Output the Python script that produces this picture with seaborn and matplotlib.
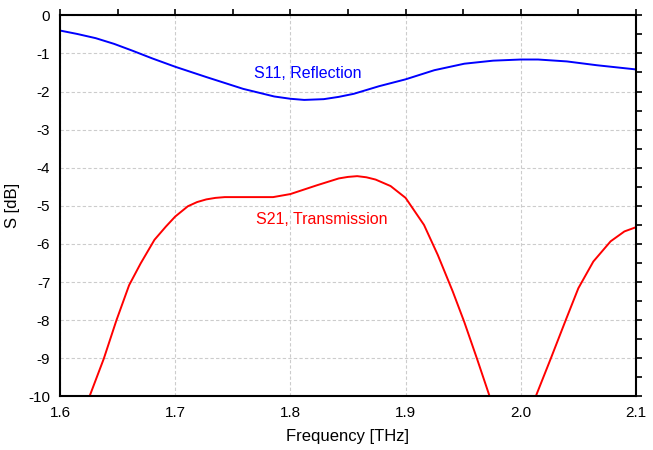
import matplotlib
matplotlib.use("Agg")
import matplotlib.pyplot as plt
from matplotlib.ticker import MultipleLocator
import seaborn as sns
import pandas as pd

# S11 (reflection) values
s11_freq = [1.600, 1.615, 1.631, 1.647, 1.663, 1.680, 1.700, 1.727, 1.759, 1.786,
            1.800, 1.812, 1.829, 1.842, 1.855, 1.877, 1.900, 1.925, 1.951, 1.976,
            2.000, 2.015, 2.040, 2.066, 2.100]
s11_db = [-0.40, -0.49, -0.60, -0.75, -0.93, -1.13, -1.35, -1.62, -1.93, -2.13,
          -2.19, -2.22, -2.20, -2.14, -2.06, -1.86, -1.68, -1.44, -1.27, -1.19,
          -1.16, -1.16, -1.21, -1.31, -1.42]

# S21 (transmission) values
s21_freq = [1.615, 1.6256, 1.638, 1.649, 1.660, 1.670, 1.682, 1.692, 1.700, 1.711,
            1.719, 1.727, 1.735, 1.743, 1.765, 1.785, 1.800, 1.823, 1.842, 1.850,
            1.858, 1.866, 1.874, 1.887, 1.900, 1.916, 1.928, 1.941, 1.951, 1.962,
            1.973, 1.993, 2.013, 2.026, 2.039, 2.050, 2.063, 2.078, 2.090, 2.100]
s21_db = [-11.2, -10.0, -9.01, -8.0, -7.08, -6.51, -5.89, -5.54, -5.28, -5.01,
          -4.90, -4.83, -4.79, -4.77, -4.77, -4.77, -4.69, -4.46, -4.28, -4.24,
          -4.22, -4.25, -4.31, -4.48, -4.79, -5.50, -6.29, -7.25, -8.05, -9.01,
          -10.0, -13.0, -10.0, -9.01, -8.0, -7.16, -6.46, -5.93, -5.67, -5.56]

x_ticks = [1.6, 1.7, 1.8, 1.9, 2.0, 2.1]
x_tick_labels = ["1.6", "1.7", "1.8", "1.9", "2.0", "2.1"]
y_ticks = [0, -1, -2, -3, -4, -5, -6, -7, -8, -9, -10]
y_tick_labels = ["0", "-1", "-2", "-3", "-4", "-5", "-6", "-7", "-8", "-9", "-10"]

sns.set_theme(style="white")
plt.rcParams['font.family'] = ['Liberation Sans', 'DejaVu Sans']

fig = plt.figure(figsize=(6.53, 4.5), dpi=100)
ax = fig.add_axes([0.0919, 0.119, 0.882, 0.847])

df11 = pd.DataFrame({"f": s11_freq, "s": s11_db})
df21 = pd.DataFrame({"f": s21_freq, "s": s21_db})
sns.lineplot(data=df11, x="f", y="s", ax=ax, color="#0000ff", linewidth=1.4, sort=False)
sns.lineplot(data=df21, x="f", y="s", ax=ax, color="#ff0000", linewidth=1.4, sort=False)

ax.set_xlim(1.6, 2.1)
ax.set_ylim(-10, 0)
ax.set_xticks(x_ticks)
ax.set_xticklabels(x_tick_labels)
ax.set_yticks(y_ticks)
ax.set_yticklabels(y_tick_labels)
ax.xaxis.set_minor_locator(MultipleLocator(0.05))
ax.yaxis.set_minor_locator(MultipleLocator(0.5))

ax.grid(True, which="major", color="#cccccc", linestyle=(0, (3, 2)), linewidth=0.8)
ax.set_axisbelow(True)

for sp in ax.spines.values():
    sp.set_visible(True)
    sp.set_color("black")
    sp.set_linewidth(1.5)

ax.tick_params(axis="both", which="both", direction="out", top=True, right=True,
               labeltop=False, labelright=False, color="black", width=1.2)
ax.tick_params(axis="both", which="major", length=4, labelsize=11, pad=3,
               labelcolor="black")
ax.tick_params(axis="both", which="minor", length=4)

ax.set_xlabel("Frequency [THz]", fontsize=12, color="black", labelpad=6)
ax.set_ylabel("S [dB]", fontsize=12, color="black", labelpad=6)

ax.text(1.768, -1.54, "S11, Reflection", color="#0000ff", fontsize=11.5, va="center", ha="left")
ax.text(1.770, -5.37, "S21, Transmission", color="#ff0000", fontsize=11.5, va="center", ha="left")

fig.savefig("out.png", dpi=100)
